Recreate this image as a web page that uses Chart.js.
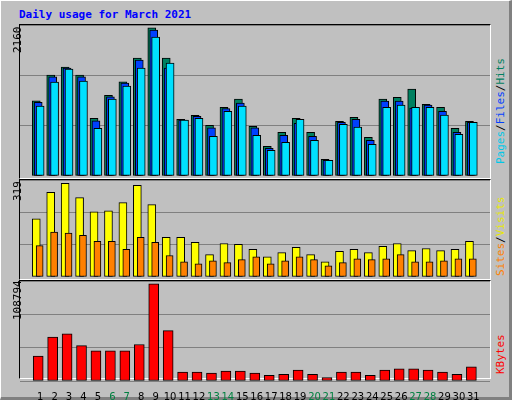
<!DOCTYPE html>
<html lang="en">
<head>
<meta charset="UTF-8">
<title>Daily usage for March 2021</title>
<script src="https://cdn.jsdelivr.net/npm/chart.js"></script>
<style>
    body { margin: 0; width: 512px; height: 400px; overflow: hidden; background: #c0c0c0; font-family: 'DejaVu Sans Mono', monospace; }
    .outer { position: absolute; left: 0; top: 0; width: 508px; height: 396px; border-top: 1px solid #ffffff; border-left: 1px solid #ffffff; border-right: 3px solid #808080; border-bottom: 3px solid #808080; }
    .title { position: absolute; left: 19px; top: 8px; color: #0000ff; font-weight: bold; font-size: 11px; }
    .frame { position: absolute; left: 19px; width: 470px; border-top: 1px solid #000; border-left: 1px solid #000; border-right: 1px solid #fff; border-bottom: 1px solid #fff; }
    canvas { position: absolute; }
    .vlab { position: absolute; transform-origin: left top; transform: rotate(-90deg); font-size: 11px; white-space: nowrap; }
</style>
</head>
<body>
<div class="outer"></div>
<div class="title">Daily usage for March 2021</div>

<div class="frame" style="top:24px;height:153px"></div>
<div class="frame" style="top:179px;height:99px"></div>
<div class="frame" style="top:280px;height:97px"></div>

<canvas id="c1" style="left:20px;top:25px;width:470px;height:151px"></canvas>
<canvas id="c2" style="left:20px;top:180px;width:470px;height:97px"></canvas>
<canvas id="c3" style="left:20px;top:281px;width:470px;height:124px"></canvas>

<div class="vlab" style="left:11px;top:53px;color:#000">2160</div>
<div class="vlab" style="left:11px;top:201px;color:#000">319</div>
<div class="vlab" style="left:11px;top:320px;color:#000">108794</div>

<div class="vlab" style="left:494px;top:164px"><span style="color:#00c8e8">Pages</span>/<span style="color:#0040ff">Files</span>/<span style="color:#008060">Hits</span></div>
<div class="vlab" style="left:494px;top:276px"><span style="color:#ff8000">Sites</span>/<span style="color:#e8e800">Visits</span></div>
<div class="vlab" style="left:494px;top:374px"><span style="color:#ff0000">KBytes</span></div>

<script>
const days = Array.from({length: 31}, (_, i) => i + 1);
const weekend = [6, 7, 13, 14, 20, 21, 27, 28];

const hits = [1095, 1469, 1586, 1469, 842, 1177, 1372, 1717, 2160, 1717, 827, 885, 739, 1002, 1119, 725,
    433, 637, 842, 637, 243, 798, 856, 564, 1119, 1148, 1265, 1046, 1002, 696, 798];
const files = [1075, 1445, 1572, 1445, 803, 1153, 1353, 1689, 2126, 1572, 813, 871, 700, 982, 1061, 700,
    404, 594, 769, 579, 229, 783, 827, 521, 1090, 1090, 988, 1032, 944, 637, 783];
const pages = [1017, 1367, 1557, 1382, 696, 1119, 1309, 1572, 2024, 1645, 813, 842, 579, 944, 1017, 594,
    375, 492, 827, 521, 229, 754, 711, 463, 1002, 1032, 1002, 1002, 886, 608, 783];
const visits = [198, 288, 319, 270, 222, 225, 253, 312, 246, 135, 135, 118, 76, 114, 111, 94,
    69, 83, 101, 76, 52, 87, 94, 83, 104, 114, 90, 97, 90, 94, 121];
const sites = [107, 153, 149, 142, 121, 121, 94, 135, 118, 73, 52, 45, 55, 49, 59, 69,
    45, 55, 69, 59, 38, 49, 62, 59, 62, 76, 52, 52, 55, 62, 62];
const kbytes = [27790, 49228, 52801, 39700, 33745, 33745, 33745, 40891, 108794, 56374, 9925, 9925, 8734, 11116, 11116, 8734,
    6352, 7543, 12307, 7543, 3970, 9925, 9925, 6352, 12307, 13498, 13498, 12307, 9925, 7543, 15880];

const PX = 14.92; // pixels per day
const pts = (vals, shift) => vals.map((v, i) => ({x: days[i] + shift / PX, y: v}));

function bars(label, vals, shift, color, width, order) {
    return { label, data: pts(vals, shift), backgroundColor: color, borderColor: '#000000',
             borderWidth: 1, borderSkipped: false, barThickness: width, order, grouped: false };
}

function options(max, showX) {
    return {
        responsive: false, animation: false, events: [],
        layout: { padding: 0 },
        plugins: { legend: { display: false }, tooltip: { enabled: false } },
        scales: {
            x: {
                type: 'linear', min: 0.13, max: 31.63, display: showX,
                grid: { display: false }, border: { display: false },
                afterBuildTicks: s => { s.ticks = days.map(d => ({value: d})); },
                ticks: {
                    autoSkip: false, maxRotation: 0, padding: 2,
                    font: { family: 'DejaVu Sans', size: 10 },
                    color: c => weekend.includes(c.tick.value) ? '#008040' : '#000000'
                }
            },
            y: {
                min: 0, max: max,
                afterBuildTicks: s => { s.ticks = [0, 1, 2, 3].map(k => ({value: max * k / 3})); },
                ticks: { display: false },
                grid: { color: '#808080', drawTicks: false, lineWidth: 1 },
                border: { display: false }
            }
        }
    };
}

new Chart(document.getElementById('c1'), {
    type: 'bar',
    data: { datasets: [
        bars('Pages', pages, 0, '#00e0ff', 8, 1),
        bars('Files', files, -2, '#0040ff', 8, 2),
        bars('Hits', hits, -4, '#008060', 8, 3)
    ] },
    options: options(2200, false)
});

new Chart(document.getElementById('c2'), {
    type: 'bar',
    data: { datasets: [
        bars('Sites', sites, -0.5, '#ff8000', 7, 1),
        bars('Visits', visits, -4, '#ffff00', 8, 2)
    ] },
    options: options(330, false)
});

new Chart(document.getElementById('c3'), {
    type: 'bar',
    data: { datasets: [ bars('KBytes', kbytes, -2, '#ff0000', 10, 1) ] },
    options: options(112000, true)
});
</script>
</body>
</html>
